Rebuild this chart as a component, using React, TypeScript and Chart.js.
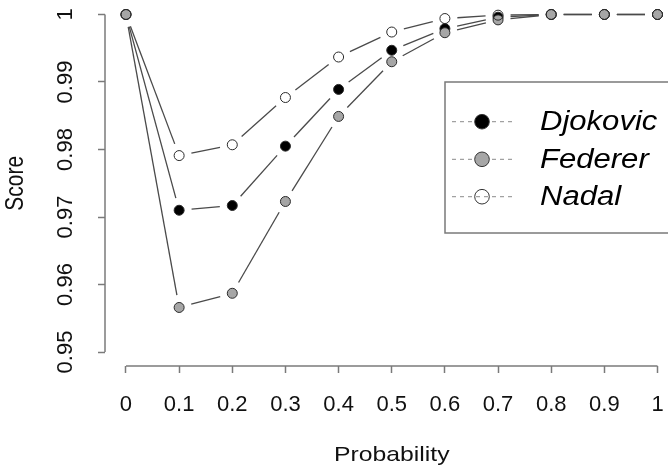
import { useEffect, useRef } from "react";
import { Chart, registerables } from "chart.js";

Chart.register(...registerables);

// ---- data ----
const probabilities = [0, 0.1, 0.2, 0.3, 0.4, 0.5, 0.6, 0.7, 0.8, 0.9, 1];
const djokovic = [1, 0.971, 0.9717, 0.9805, 0.9889, 0.9947, 0.9979, 0.9996, 1, 1, 1];
const federer = [1, 0.9566, 0.9587, 0.9723, 0.9849, 0.993, 0.9973, 0.9992, 1, 1, 1];
const nadal = [1, 0.9791, 0.9807, 0.9877, 0.9937, 0.9974, 0.9994, 0.9999, 1, 1, 1];
const seriesNames = ["Djokovic", "Federer", "Nadal"];
const xTicks = [0, 0.1, 0.2, 0.3, 0.4, 0.5, 0.6, 0.7, 0.8, 0.9, 1];
const yTicks = [0.95, 0.96, 0.97, 0.98, 0.99, 1];
const xTickLabels = ["0", "0.1", "0.2", "0.3", "0.4", "0.5", "0.6", "0.7", "0.8", "0.9", "1"];
const yTickLabels = ["0.95", "0.96", "0.97", "0.98", "0.99", "1"];

const FONT = "'Liberation Sans', Arial, Helvetica, sans-serif";
const AXIS_COLOR = "#7a7a7a";
const TEXT_COLOR = "#111";
const fills = ["#000000", "#a6a6a6", "rgba(0,0,0,0)"];

const toPoints = (ys: number[]) => probabilities.map((x, i) => ({ x, y: ys[i] }));

export default function App() {
  const ref = useRef<HTMLCanvasElement | null>(null);

  useEffect(() => {
    document.body.style.margin = "0";
    const canvas = ref.current;
    if (!canvas) return;

    const gap = 12.5;
    const segmentPlugin = {
      id: "rSegments",
      beforeDatasetsDraw(chart: any) {
        const ctx = chart.ctx;
        ctx.save();
        ctx.strokeStyle = "#4a4a4a";
        ctx.lineWidth = 1.3;
        chart.data.datasets.forEach((_d: any, i: number) => {
          const meta = chart.getDatasetMeta(i);
          const pts = meta.data;
          for (let k = 0; k < pts.length - 1; k++) {
            const a = pts[k];
            const b = pts[k + 1];
            const dx = b.x - a.x;
            const dy = b.y - a.y;
            const len = Math.hypot(dx, dy);
            if (len <= 2 * gap) continue;
            const ux = dx / len;
            const uy = dy / len;
            ctx.beginPath();
            ctx.moveTo(a.x + ux * gap, a.y + uy * gap);
            ctx.lineTo(b.x - ux * gap, b.y - uy * gap);
            ctx.stroke();
          }
        });
        ctx.restore();
      },
    };

    const axesPlugin = {
      id: "rAxes",
      afterDraw(chart: any) {
        const ctx = chart.ctx;
        const xs = chart.scales.x;
        const ys = chart.scales.y;
        const area = chart.chartArea;
        ctx.save();
        ctx.strokeStyle = AXIS_COLOR;
        ctx.lineWidth = 1.5;
        // y axis line
        ctx.beginPath();
        ctx.moveTo(area.left, ys.getPixelForValue(yTicks[yTicks.length - 1]));
        ctx.lineTo(area.left, ys.getPixelForValue(yTicks[0]));
        ctx.stroke();
        // x axis line
        ctx.beginPath();
        ctx.moveTo(xs.getPixelForValue(xTicks[0]), area.bottom);
        ctx.lineTo(xs.getPixelForValue(xTicks[xTicks.length - 1]), area.bottom);
        ctx.stroke();

        // y tick labels (rotated)
        ctx.fillStyle = TEXT_COLOR;
        ctx.font = `22px ${FONT}`;
        ctx.textAlign = "center";
        ctx.textBaseline = "middle";
        yTicks.forEach((v, i) => {
          const py = ys.getPixelForValue(v);
          ctx.save();
          ctx.translate(66, py);
          ctx.rotate(-Math.PI / 2);
          ctx.fillText(yTickLabels[i], 0, 0);
          ctx.restore();
        });

        // axis titles
        ctx.font = `21px ${FONT}`;
        ctx.save();
        ctx.translate(16, (ys.getPixelForValue(yTicks[0]) + ys.getPixelForValue(yTicks[yTicks.length - 1])) / 2);
        ctx.rotate(-Math.PI / 2);
        ctx.scale(1, 1.2);
        ctx.fillText("Score", 0, 0);
        ctx.restore();
        ctx.save();
        ctx.translate(
          (xs.getPixelForValue(xTicks[0]) + xs.getPixelForValue(xTicks[xTicks.length - 1])) / 2,
          455
        );
        ctx.scale(1.18, 1);
        ctx.fillText("Probability", 0, 0);
        ctx.restore();

        // legend
        ctx.strokeStyle = AXIS_COLOR;
        ctx.lineWidth = 1.5;
        ctx.strokeRect(445, 82, 240, 151);
        const rows = [121.7, 159.3, 196.7];
        chart.data.datasets.forEach((d: any, i: number) => {
          const y = rows[i];
          ctx.save();
          ctx.strokeStyle = "#8a8a8a";
          ctx.lineWidth = 1;
          ctx.setLineDash([4, 4]);
          ctx.beginPath();
          ctx.moveTo(452, y);
          ctx.lineTo(512, y);
          ctx.stroke();
          ctx.restore();
          ctx.beginPath();
          ctx.arc(482, y, 7.3, 0, Math.PI * 2);
          ctx.fillStyle = d.pointBackgroundColor;
          ctx.fill();
          ctx.strokeStyle = "#333";
          ctx.lineWidth = 1;
          ctx.stroke();
          ctx.save();
          ctx.fillStyle = "#000";
          ctx.font = `italic 27px ${FONT}`;
          ctx.textAlign = "left";
          ctx.textBaseline = "middle";
          ctx.translate(540, y + 1);
          ctx.scale(1.15, 1);
          ctx.fillText(d.label, 0, 0);
          ctx.restore();
        });
        ctx.restore();
      },
    };

    const zeroPadding = (s: any) => {
      s.paddingLeft = 0;
      s.paddingRight = 0;
      s.paddingTop = 0;
      s.paddingBottom = 0;
    };

    // chart area: left 105, right 662.5 (min overflow 5.5), top 5.5, bottom 366
    const pxPerX = 532;
    const pxPerY = 6760;
    const xMin = -21 / pxPerX;
    const xMax = 1 + 4.5 / pxPerX;
    const yMax = 1 + 8.5 / pxPerY;
    const yMin = 0.95 - 14 / pxPerY;

    const chart = new Chart(canvas, {
      type: "line",
      data: {
        datasets: [djokovic, federer, nadal].map((ys, i) => ({
          label: seriesNames[i],
          data: toPoints(ys),
          showLine: false,
          pointRadius: 5,
          pointHoverRadius: 5,
          pointBorderWidth: 1,
          pointBorderColor: "#2a2a2a",
          pointBackgroundColor: fills[i],
          order: 3 - i,
          clip: false as any,
        })),
      },
      options: {
        animation: false,
        responsive: false,
        devicePixelRatio: 1,
        events: [],
        layout: { padding: { top: 0, right: 0, left: 0, bottom: 0 } },
        plugins: { legend: { display: false }, tooltip: { enabled: false } },
        scales: {
          x: {
            type: "linear",
            min: xMin,
            max: xMax,
            afterBuildTicks: (s: any) => {
              s.ticks = xTicks.map((v) => ({ value: v }));
            },
            afterFit: (s: any) => {
              s.height = 101;
              zeroPadding(s);
            },
            grid: {
              display: true,
              drawOnChartArea: false,
              drawTicks: true,
              tickLength: 7,
              tickWidth: 1.5,
              tickColor: AXIS_COLOR,
            },
            border: { display: false },
            ticks: {
              autoSkip: false,
              maxRotation: 0,
              minRotation: 0,
              padding: 19,
              color: TEXT_COLOR,
              font: { family: FONT, size: 22 },
              callback: (_v: any, idx: number) => xTickLabels[idx],
            },
          },
          y: {
            type: "linear",
            min: yMin,
            max: yMax,
            afterBuildTicks: (s: any) => {
              s.ticks = yTicks.map((v) => ({ value: v }));
            },
            afterFit: (s: any) => {
              s.width = 105;
              zeroPadding(s);
            },
            grid: {
              display: true,
              drawOnChartArea: false,
              drawTicks: true,
              tickLength: 7,
              tickWidth: 1.5,
              tickColor: AXIS_COLOR,
            },
            border: { display: false },
            ticks: { display: false },
          },
        },
      },
      plugins: [segmentPlugin, axesPlugin],
    });

    return () => chart.destroy();
  }, []);

  return (
    <div style={{ width: 668, height: 467 }}>
      <canvas ref={ref} width={668} height={467} />
    </div>
  );
}
